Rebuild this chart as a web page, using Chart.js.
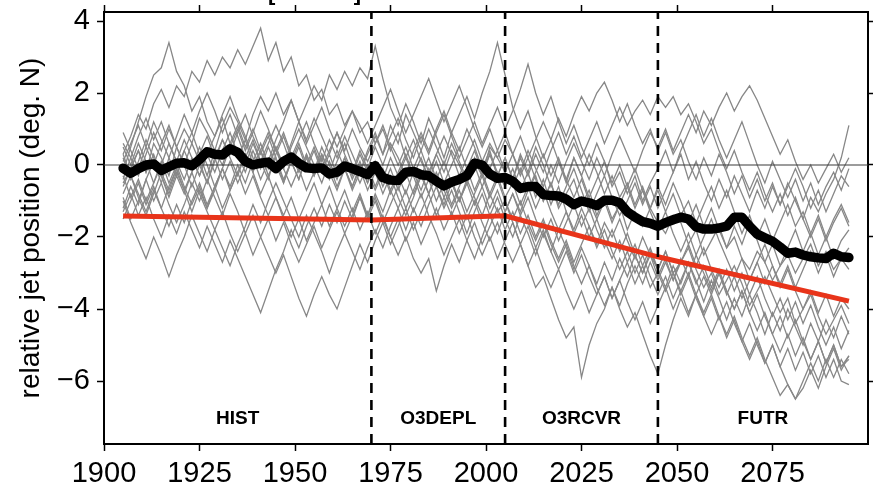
<!DOCTYPE html>
<html>
<head>
<meta charset="utf-8">
<script src="https://cdn.jsdelivr.net/npm/chart.js@4.4.1/dist/chart.umd.min.js"></script>
<style>
  body { margin: 0; background: #fff; }
  canvas { display: block; }
</style>
</head>
<body>
<canvas id="jetChart" width="873" height="489"></canvas>
<script>
/* ensemble of jet position anomalies, one value every 2 years (1905..2095) */
const years = [];
for (let y = 1905; y <= 2095; y += 2) years.push(y);

const xTicks = [1900, 1925, 1950, 1975, 2000, 2025, 2050, 2075];
const yTicks = [4, 2, 0, -2, -4, -6];

// period boundaries and names
const periodEdges = [1970, 2005, 2045];
const periodNames = ['HIST', 'O3DEPL', 'O3RCVR', 'FUTR'];
const periodMid = [1935, 1987.5, 2025, 2072.5];

// linear trend per period (red)
const trendYears = [1905, 1970, 2005, 2045, 2095];
const trendValues = [-1.42, -1.53, -1.41, -2.55, -3.78];

// ensemble mean (black)
const meanValues = [
  -0.09, -0.23, -0.1, 0.0, 0.03, -0.15, -0.05, 0.05, 0.06, -0.02, 0.15, 0.37, 0.3, 0.28, 0.45, 0.35, 0.1, 0.0, 0.05, 0.08, -0.1, 0.1, 0.22, 0.05, -0.08, -0.1, -0.08, -0.25, -0.2, -0.03, -0.1, -0.18, -0.27,
  -0.02, -0.35, -0.42, -0.43, -0.2, -0.18, -0.27, -0.3, -0.45, -0.58, -0.47, -0.4, -0.3, 0.05, 0.0, -0.25, -0.37, -0.35,
  -0.45, -0.65, -0.6, -0.6, -0.82, -0.85, -0.86, -0.95, -1.1, -1.0, -1.05, -1.13, -0.98, -0.98, -1.05, -1.3, -1.45, -1.57, -1.62, -1.7,
  -1.6, -1.52, -1.45, -1.5, -1.72, -1.78, -1.78, -1.75, -1.7, -1.45, -1.45, -1.7, -1.92, -2.02, -2.12, -2.28, -2.45, -2.42, -2.5, -2.55, -2.58, -2.6, -2.45, -2.55, -2.57
];

// individual members (grey)
const m01 = [
  0.3, 0.8, 1.4, 1.0, 1.7, 2.1, 1.6, 2.2, 1.9, 2.6, 2.3, 2.9, 2.5, 3.0, 2.7, 3.2, 2.8, 3.3, 3.8, 2.9, 3.4, 2.6, 3.0, 2.2, 2.5, 1.8, 2.1, 1.4, 1.7, 1.1, 1.5, 0.9, 1.2,
  0.6, 1.0, 0.4, 0.9, 0.2, 0.7, 0.1, -0.3, 0.3, -0.2, 0.4, 0.0, -0.5, 0.1, -0.3, 0.5, 0.2, -0.2,
  -0.6, -0.1, -0.7, -0.3, -1.0, -0.5, -1.2, -0.8, -0.4, -1.1, -0.7, -1.4, -0.9, -1.5, -1.1, -1.8, -1.3, -1.7, -1.2, -1.6,
  -1.9, -1.4, -1.6, -2.2, -1.8, -2.5, -2.1, -1.7, -2.3, -2.0, -2.6, -2.9, -2.4, -2.7, -3.2, -2.8, -2.5, -3.0, -2.6, -2.2, -2.8, -2.4, -2.9, -2.6, -2.3
];
const m02 = [
  -0.2, 0.5, 1.2, 1.9, 2.5, 2.7, 3.4, 2.6, 2.2, 1.5, 1.9, 1.2, 0.8, 1.3, 0.6, 0.2, 0.7, 0.0, 0.4, -0.3, 0.2, -0.5, 0.1, -0.4, 0.3, -0.2, 0.5, 0.0, -0.6, -0.1, -0.7, -0.2, 0.3,
  0.8, 0.3, 1.1, 0.6, 1.4, 0.9, 0.4, 1.0, 0.5, 0.0, 0.6, 0.1, -0.4, 0.2, -0.3, 0.3, -0.2, -0.6,
  -0.1, -0.7, -0.2, -0.9, -0.4, -1.1, -0.6, -1.3, -1.8, -1.2, -1.7, -2.2, -1.6, -2.0, -1.5, -2.1, -2.6, -2.0, -2.5, -2.9,
  -2.4, -3.0, -2.7, -2.3, -2.9, -3.4, -3.0, -3.6, -3.2, -2.8, -3.3, -3.9, -3.5, -3.1, -3.6, -4.1, -3.7, -4.4, -4.0, -3.6, -4.2, -4.7, -4.3, -3.9, -4.4
];
const m03 = [
  -0.5, -0.1, 0.4, -0.2, 0.6, 0.2, -0.3, 0.5, 1.0, 0.6, 1.3, 0.9, 0.4, 1.1, 1.6, 1.2, 0.7, 1.4, 1.9, 1.5, 2.0, 1.4, 1.8, 1.2, 1.7, 2.2, 1.8, 2.5, 2.1, 2.6, 2.2, 2.7, 2.4,
  3.3, 2.4, 1.6, 1.1, 1.7, 1.2, 0.6, 1.3, 0.8, 0.2, 0.9, 0.4, 1.0, 0.5, -0.1, 0.4, -0.3, 0.2,
  -0.4, 0.3, -0.2, 0.5, 0.0, -0.6, 0.1, -0.5, 0.2, -0.3, -0.9, -0.4, 0.1, -0.6, -0.2, -0.8, -0.3, -1.0, -0.5, -0.1,
  0.4, -0.2, 0.3, -0.4, 0.1, -0.5, -1.0, -0.4, -0.9, -0.3, -0.8, -1.3, -0.7, -1.2, -0.6, -1.1, -0.5, -1.0, -1.5, -0.9, -1.3, -0.8, -0.4, 0.2, 1.1
];
const m04 = [
  0.6, 0.2, -0.3, 0.3, 0.9, 0.4, 1.0, 0.5, 0.0, 0.6, 0.1, -0.5, 0.2, 0.7, 0.3, 0.9, 1.4, 0.8, 0.3, 0.8, 0.2, -0.4, 0.1, 0.6, 0.0, 0.5, -0.1, 0.4, 0.9, 0.3, -0.2, 0.4, -0.1,
  0.5, 0.0, 0.6, 0.2, -0.3, 0.4, 0.9, 0.4, 1.0, 1.5, 0.9, 1.4, 1.9, 1.3, 2.0, 2.6, 3.4, 2.5,
  1.6, 1.0, 1.5, 0.8, 0.2, 0.7, 0.1, -0.4, 0.2, -0.3, 0.3, -0.2, -0.8, -0.3, -0.9, -0.5, -1.1, -0.6, -1.2, -0.7,
  -1.3, -0.8, -1.4, -1.0, -1.6, -1.1, -0.6, -1.2, -0.7, -1.3, -1.9, -1.4, -2.0, -1.5, -2.1, -1.6, -1.1, -1.7, -1.3, -1.9, -1.4, -2.0, -1.5, -1.1, -1.6
];
const m05 = [
  -1.2, -0.6, -1.1, -0.4, 0.1, -0.5, 0.2, -0.3, 0.4, 0.9, 0.3, 0.8, 0.2, -0.4, 0.1, -0.5, 0.0, 0.6, 0.1, -0.4, 0.3, 0.8, 0.2, 0.7, 1.2, 0.6, 0.1, 0.7, 0.2, 0.8, 0.3, -0.2, 0.4,
  0.9, 0.3, 0.8, 1.3, 0.7, 0.2, 0.8, 0.3, 0.9, 1.4, 0.8, 0.2, 0.7, 1.2, 0.6, 1.1, 1.6, 1.0,
  1.5, 2.1, 2.8, 2.0, 1.4, 1.9, 1.2, 0.6, 1.1, 0.5, 0.0, 0.6, 0.1, -0.5, 0.0, -0.6, -0.1, -0.7, -1.2, -0.6,
  -1.1, -0.5, -1.0, -1.6, -1.1, -1.7, -1.2, -1.8, -2.3, -1.7, -2.2, -1.6, -2.1, -2.7, -2.2, -2.8, -2.3, -1.8, -2.4, -1.9, -2.5, -2.0, -2.6, -2.1, -1.8
];
const m06 = [
  0.2, -0.4, 0.1, 0.7, 0.2, -0.3, -0.9, -0.3, -0.8, -0.2, 0.3, -0.3, 0.4, 0.0, 0.6, 1.1, 0.5, 1.0, 0.4, -0.1, 0.5, 0.0, 0.6, 1.2, 0.7, 1.3, 0.8, 0.3, 0.9, 0.4, 1.0, 0.5, 0.1,
  0.6, 1.1, 0.5, 0.0, 0.5, -0.1, 0.4, -0.2, 0.3, 0.8, 0.3, -0.3, 0.2, 0.7, 0.1, 0.6, 0.2, 0.7,
  0.3, 0.8, 0.2, 0.7, 1.2, 0.7, 1.3, 0.8, 1.4, 1.9, 1.5, 2.0, 2.3, 1.8, 1.2, 1.7, 1.1, 0.6, 1.0, 0.4,
  0.9, 0.3, 0.7, 0.1, -0.4, 0.2, -0.3, 0.3, -0.2, -0.8, -0.3, -0.9, -0.4, -1.0, -0.5, -1.1, -0.6, -0.1, -0.6, -1.2, -0.7, -1.3, -0.8, -0.3, -0.6
];
const m07 = [
  -0.8, -0.3, -0.9, -1.4, -0.8, -0.2, -0.7, -0.1, 0.4, -0.1, 0.5, 0.0, -0.6, -0.1, 0.5, 1.0, 0.4, 0.9, 1.5, 1.0, 0.4, 0.9, 0.3, -0.2, 0.3, -0.3, 0.2, -0.4, 0.1, 0.6, 0.0, -0.5, 0.0,
  -0.6, -0.1, -0.7, -0.2, 0.3, -0.3, 0.2, -0.4, 0.1, -0.5, 0.0, 0.5, -0.1, 0.4, -0.2, 0.3, -0.3, 0.2,
  -0.4, 0.2, -0.3, 0.3, -0.2, 0.4, 0.9, 0.3, 0.8, 0.2, 0.7, 1.2, 0.6, 1.1, 1.6, 1.1, 1.5, 1.8, 1.4, 1.9,
  1.6, 1.9, 1.4, 1.7, 1.2, 0.6, 1.0, 0.4, -0.1, 0.4, -0.2, -0.7, -0.2, -0.8, -1.3, -0.8, -1.4, -0.9, -1.5, -2.0, -1.5, -2.1, -1.6, -1.2, -1.7
];
const m08 = [
  0.1, 0.6, 1.1, 0.5, 1.2, 0.7, 0.2, 0.8, 1.4, 0.9, 1.5, 2.0, 1.5, 0.9, 1.4, 0.8, 0.2, 0.7, 0.1, 0.6, 1.1, 0.6, 0.0, 0.5, -0.1, 0.4, -0.2, 0.3, -0.3, 0.2, -0.4, 0.1, -0.5,
  0.0, -0.6, -0.1, -0.7, -0.2, -0.8, -0.3, 0.2, -0.4, 0.1, -0.5, -1.0, -0.5, 0.0, -0.6, -0.1, 0.4, -0.2,
  0.3, -0.2, 0.4, -0.1, -0.6, 0.0, -0.5, 0.1, 0.6, 0.1, -0.4, 0.2, -0.3, 0.3, 0.8, 0.3, -0.2, 0.4, 0.9, 0.5,
  1.0, 0.4, 0.9, 1.4, 0.9, 1.5, 1.1, 1.6, 2.0, 1.5, 1.9, 2.2, 1.8, 1.3, 0.8, 0.3, 0.7, 0.1, -0.4, 0.0, -0.5, -0.1, 0.3, -0.2, 0.2
];
const m09 = [
  -1.3, -0.8, -1.4, -0.9, -1.5, -2.0, -1.4, -1.9, -1.3, -1.8, -2.3, -1.7, -2.2, -2.7, -2.1, -2.6, -3.1, -3.6, -4.1, -3.5, -2.9, -2.4, -1.8, -2.3, -1.7, -1.2, -1.7, -1.1, -1.6, -1.0, -1.5, -0.9, -1.4,
  -0.8, -1.3, -0.7, -1.2, -1.8, -1.2, -1.7, -1.1, -0.6, -1.2, -0.7, -1.3, -1.9, -1.3, -0.8, -1.4, -0.9, -1.5,
  -2.0, -1.4, -1.9, -2.5, -1.9, -2.4, -1.8, -2.3, -2.9, -2.3, -2.8, -3.3, -2.7, -3.2, -2.6, -3.1, -2.5, -3.0, -2.4, -2.9,
  -3.4, -2.8, -3.3, -2.7, -3.2, -3.8, -3.2, -3.7, -4.3, -3.7, -4.2, -3.6, -4.1, -4.7, -4.1, -4.6, -4.0, -4.5, -5.0, -4.4, -4.9, -4.3, -4.8, -4.2, -4.7
];
const m10 = [
  -0.9, -1.5, -1.0, -0.4, -1.0, -0.5, -1.1, -1.6, -1.1, -0.5, -1.0, -0.4, -0.9, -1.4, -0.8, -1.3, -1.9, -1.4, -2.0, -2.5, -3.0, -2.5, -3.1, -3.7, -4.2, -3.6, -3.1, -3.6, -4.0, -3.4, -2.8, -2.2, -2.7,
  -2.1, -1.6, -2.2, -1.7, -1.2, -1.8, -1.3, -0.8, -1.4, -0.9, -0.4, -1.0, -0.5, -1.1, -0.6, -1.2, -0.7, -1.3,
  -0.8, -1.4, -0.9, -1.5, -2.0, -1.5, -2.1, -1.6, -1.1, -1.7, -1.2, -1.8, -2.3, -1.8, -2.4, -1.9, -2.5, -3.0, -2.5, -3.1,
  -2.6, -3.2, -2.7, -2.2, -2.8, -2.3, -2.9, -3.4, -2.9, -3.5, -3.0, -3.6, -3.1, -3.7, -4.2, -3.7, -4.3, -3.8, -4.4, -3.9, -4.5, -5.0, -4.5, -5.1, -4.6
];
const m11 = [
  -0.3, -0.9, -0.4, -1.0, -0.5, 0.1, -0.5, 0.0, -0.6, -1.1, -0.6, -1.2, -0.7, -0.1, -0.7, -0.2, 0.3, -0.2, -0.8, -0.3, -0.9, -1.4, -0.9, -1.5, -1.0, -0.5, -1.1, -0.6, -1.2, -1.7, -1.2, -1.8, -1.3,
  -1.9, -1.4, -2.0, -2.5, -2.0, -2.6, -3.0, -2.6, -3.5, -2.8, -2.2, -2.7, -2.1, -1.6, -2.2, -1.7, -1.2, -1.8,
  -1.3, -1.9, -1.4, -2.0, -1.5, -2.1, -2.6, -2.1, -2.7, -2.2, -1.7, -2.3, -1.8, -2.4, -2.9, -2.4, -3.0, -2.5, -3.1, -3.6,
  -3.1, -3.7, -3.2, -2.7, -3.3, -2.8, -3.4, -2.9, -3.5, -4.0, -3.5, -4.1, -3.6, -4.2, -4.7, -4.2, -4.8, -4.3, -4.9, -5.4, -4.9, -5.5, -5.0, -5.6, -5.4
];
const m12 = [
  0.5, 0.0, 0.6, 0.1, -0.5, 0.0, 0.6, 0.1, 0.7, 0.2, -0.3, 0.3, -0.2, 0.4, 0.9, 0.3, -0.2, 0.4, -0.1, 0.5, 0.0, -0.5, 0.1, -0.4, 0.2, -0.3, 0.3, -0.2, -0.7, -0.1, -0.6, 0.0, -0.5,
  0.1, -0.4, 0.2, -0.3, -0.8, -0.2, -0.7, -0.1, -0.6, -1.1, -0.5, -1.0, -0.4, -0.9, -1.4, -0.8, -1.3, -1.0,
  -1.6, -2.2, -2.8, -3.4, -3.1, -3.7, -4.3, -4.8, -4.5, -5.9, -5.0, -4.4, -4.0, -3.4, -3.9, -3.3, -2.8, -3.3, -2.7, -3.2,
  -2.7, -3.2, -2.6, -3.1, -2.5, -3.0, -3.5, -3.0, -3.6, -3.1, -3.7, -3.2, -2.7, -3.3, -2.8, -3.4, -2.9, -3.5, -4.0, -3.5, -4.1, -3.6, -4.2, -3.7, -4.0
];
const m13 = [
  -0.6, -0.1, 0.4, -0.2, 0.3, -0.3, -0.8, -0.2, -0.7, -1.3, -0.7, -1.2, -0.6, -0.1, -0.6, 0.0, -0.5, 0.1, 0.6, 0.0, 0.5, -0.1, -0.6, -0.1, -0.7, -0.2, 0.3, -0.2, 0.4, -0.1, -0.6, -0.1, -0.7,
  -0.2, -0.8, -0.3, -0.9, -1.4, -0.9, -0.3, -0.8, -0.2, -0.7, -1.2, -0.7, -1.3, -0.8, -0.3, -0.9, -0.4, -1.0,
  -1.5, -1.0, -1.6, -2.1, -1.6, -2.2, -2.7, -2.2, -2.8, -3.3, -2.8, -3.4, -3.9, -3.4, -4.0, -4.5, -4.1, -4.7, -5.3, -5.8,
  -5.0, -4.3, -3.7, -4.2, -3.6, -3.1, -3.6, -3.0, -3.5, -4.0, -3.5, -4.1, -4.6, -4.1, -4.7, -5.2, -4.7, -5.3, -4.8, -5.4, -4.9, -5.5, -5.0, -5.6, -5.3
];
const m14 = [
  0.9, 0.4, -0.1, 0.5, 0.0, 0.6, 1.1, 0.5, 0.0, -0.6, 0.0, -0.5, 0.1, 0.7, 0.2, -0.3, 0.3, -0.2, 0.4, 0.9, 0.4, -0.1, 0.5, 1.0, 0.5, 0.0, -0.5, 0.1, -0.4, 0.2, -0.3, 0.3, -0.2,
  -0.7, -0.2, -0.8, -0.3, 0.2, -0.3, -0.9, -0.4, -1.0, -0.5, -1.1, -0.6, -0.1, -0.7, -0.2, -0.8, -0.3, -0.9,
  -0.5, -1.1, -0.6, -1.2, -0.7, -1.3, -1.8, -1.3, -1.9, -1.4, -2.0, -1.5, -2.1, -2.6, -2.1, -2.7, -2.2, -2.8, -2.3, -2.9,
  -2.4, -3.0, -3.5, -3.0, -3.6, -4.1, -3.6, -4.2, -4.7, -4.2, -4.8, -5.3, -4.8, -5.4, -5.9, -6.4, -6.1, -6.5, -6.2, -5.7, -6.2, -5.6, -5.1, -5.7, -5.3
];
const m15 = [
  -1.5, -1.0, -0.5, -1.1, -0.6, -1.2, -1.7, -1.1, -1.6, -1.0, -0.5, -1.1, -0.6, -1.2, -0.7, -0.2, -0.8, -0.3, -0.9, -1.4, -0.9, -1.5, -2.0, -1.5, -2.1, -1.6, -1.1, -1.7, -1.2, -0.7, -1.3, -0.8, -1.4,
  -0.9, -1.5, -2.0, -1.5, -2.1, -1.6, -2.2, -1.7, -1.2, -1.8, -1.3, -1.9, -1.4, -2.0, -2.5, -2.0, -2.6, -2.1,
  -1.6, -2.2, -1.7, -2.3, -1.8, -2.4, -2.9, -2.4, -3.0, -2.5, -3.1, -3.6, -3.1, -3.7, -3.2, -2.7, -3.3, -2.8, -3.4, -3.0,
  -3.5, -3.0, -3.6, -3.1, -3.7, -4.2, -3.7, -4.3, -3.8, -4.4, -4.9, -4.4, -5.0, -5.5, -5.0, -5.6, -6.1, -6.5, -6.0, -5.5, -6.0, -5.4, -5.9, -5.4, -5.8
];
const m16 = [
  0.3, -0.3, -0.8, -1.3, -0.7, -1.2, -0.6, -0.1, -0.7, -0.2, -0.8, -1.3, -1.8, -1.3, -1.9, -2.4, -1.9, -2.5, -2.0, -1.5, -2.1, -1.6, -2.2, -2.7, -2.2, -1.7, -2.3, -1.8, -1.3, -1.9, -1.4, -0.9, -1.5,
  -1.0, -1.6, -1.1, -0.6, -1.2, -0.7, -0.2, -0.8, -0.3, -0.9, -1.4, -0.9, -1.5, -1.0, -1.6, -2.1, -1.6, -2.2,
  -2.7, -2.2, -2.8, -2.3, -2.9, -3.4, -2.9, -3.5, -4.0, -3.5, -4.1, -3.6, -3.1, -3.7, -3.2, -3.8, -4.3, -3.8, -4.4, -3.9,
  -3.4, -4.0, -3.5, -4.1, -3.6, -4.2, -4.7, -4.2, -4.8, -4.3, -4.9, -5.4, -4.9, -5.5, -5.0, -5.6, -5.1, -5.7, -5.2, -5.8, -5.3, -5.9, -5.4, -6.0, -6.1
];
const m17 = [
  -0.4, 0.2, 0.8, 1.3, 0.7, 1.2, 0.6, 0.1, -0.4, 0.2, -0.3, 0.3, 0.8, 1.4, 1.9, 1.3, 0.8, 0.2, -0.4, 0.1, 0.7, 1.2, 1.8, 1.2, 0.6, 1.1, 1.6, 1.0, 0.5, 1.0, 1.5, 1.1, 0.6,
  1.1, 1.6, 2.1, 1.5, 0.9, 1.4, 1.9, 2.4, 1.8, 1.2, 1.7, 2.2, 1.6, 1.0, 0.5, 1.0, 0.4, 0.9,
  0.3, -0.3, 0.2, -0.4, -1.0, -0.5, -1.1, -0.6, -0.1, -0.7, -1.3, -0.8, -0.3, -0.9, -1.4, -1.0, -0.5, -1.1, -0.6, -1.2,
  -0.7, -0.2, 0.4, 0.9, 1.4, 0.8, 1.3, 0.7, 0.2, 0.7, 1.2, 0.6, 0.0, -0.5, 0.1, -0.4, -0.9, -0.4, -1.0, -0.5, -1.1, -0.6, -0.2, -0.7, -0.1
];
const m18 = [
  -1.0, -1.6, -2.1, -2.6, -2.0, -2.5, -3.1, -2.5, -2.0, -1.4, -1.9, -2.4, -1.8, -2.3, -2.8, -2.2, -1.7, -1.1, -1.6, -1.0, -0.5, -1.0, -1.5, -2.0, -1.4, -1.9, -2.4, -3.0, -2.4, -1.9, -2.4, -2.9, -2.3,
  -1.8, -2.3, -1.7, -1.2, -0.7, -1.3, -0.8, -1.4, -1.9, -2.5, -2.0, -1.5, -2.1, -2.6, -2.0, -1.4, -1.9, -1.3,
  -0.8, -1.3, -0.7, -0.2, 0.3, -0.3, 0.2, -0.4, -0.9, -0.4, -1.0, -1.5, -1.0, -1.6, -1.1, -0.6, -1.2, -0.7, -1.3, -1.8,
  -1.3, -1.9, -2.4, -1.9, -2.5, -2.0, -1.5, -2.1, -2.6, -3.1, -2.6, -3.2, -2.7, -2.2, -2.8, -3.3, -2.8, -3.4, -2.9, -2.4, -3.0, -2.5, -3.1, -2.6, -2.9
];
const members = [m01, m02, m03, m04, m05, m06, m07, m08, m09, m10, m11, m12, m13, m14, m15, m16, m17, m18];

const FONT = "'Liberation Sans', Arial, Helvetica, sans-serif";
const Y_MIN = -7.75, Y_MAX = 4.25;

function pontos(xs, ys) {
    return xs.map((x, i) => ({ x: x, y: ys[i] }));
}

// datasets: lower order is drawn on top
let datasets = [];

members.forEach(function (m) {
    datasets.push({
        data: pontos(years, m),
        borderColor: '#878787',
        borderWidth: 1.3,
        order: 10
    });
});

datasets.push({
    data: [{ x: 1900, y: 0 }, { x: 2100, y: 0 }],
    borderColor: '#3a3a3a',
    borderWidth: 1.2,
    order: 5
});

datasets.push({
    data: pontos(years, meanValues),
    borderColor: '#000000',
    borderWidth: 9.5,
    borderJoinStyle: 'round',
    borderCapStyle: 'round',
    order: 3
});

datasets.push({
    data: pontos(trendYears, trendValues),
    borderColor: '#e8341a',
    borderWidth: 5,
    order: 2
});

periodEdges.forEach(function (ano) {
    datasets.push({
        data: [{ x: ano, y: Y_MIN }, { x: ano, y: Y_MAX }],
        borderColor: '#000000',
        borderWidth: 2.6,
        borderDash: [10, 7],
        order: 1
    });
});

// period names at the bottom and the cut brackets at the top edge
const rotulos = {
    id: 'rotulos',
    afterDatasetsDraw(chart) {
        const ctx = chart.ctx;
        const sx = chart.scales.x;
        const sy = chart.scales.y;
        ctx.save();
        ctx.fillStyle = '#000';
        ctx.font = 'bold 19px ' + FONT;
        ctx.textAlign = 'center';
        ctx.textBaseline = 'middle';
        periodNames.forEach(function (nome, i) {
            ctx.fillText(nome, sx.getPixelForValue(periodMid[i]), sy.getPixelForValue(-7.05));
        });
        ctx.restore();
    },
    afterDraw(chart) {
        const ctx = chart.ctx;
        ctx.save();
        ctx.fillStyle = '#000';
        ctx.font = 'bold 22px ' + FONT;
        ctx.textAlign = 'left';
        ctx.textBaseline = 'bottom';
        ctx.fillText('[', 268, 5);
        ctx.textAlign = 'right';
        ctx.fillText(']', 361, 5);
        ctx.restore();
    }
};

const tickFont = { family: FONT, size: 29 };
const menos = v => (v < 0 ? '\u2212' + Math.abs(v) : String(v));

// fixed box sizes so the plot area sits at 104..868 x 12..444
function caixa(w, h) {
    return function (s) {
        if (w !== null) s.width = w;
        if (h !== null) s.height = h;
        s.paddingTop = 0;
        s.paddingBottom = 0;
        s.paddingLeft = 0;
        s.paddingRight = 0;
    };
}

const gradeEixo = { drawOnChartArea: false, tickLength: 7, tickWidth: 1.5, tickColor: '#000' };
const bordaEixo = { color: '#000', width: 2 };

const config = {
    type: 'line',
    data: { datasets: datasets },
    options: {
        responsive: false,
        animation: false,
        layout: { padding: 0 },
        elements: { point: { radius: 0 }, line: { tension: 0 } },
        plugins: {
            legend: { display: false },
            tooltip: { enabled: false },
            title: { display: false }
        },
        scales: {
            x: {
                type: 'linear',
                position: 'bottom',
                min: 1900,
                max: 2100,
                afterBuildTicks: s => { s.ticks = xTicks.map(v => ({ value: v })); },
                afterFit: caixa(null, 45),
                ticks: { font: tickFont, color: '#000', padding: 6, maxRotation: 0, autoSkip: false, callback: v => String(v) },
                grid: gradeEixo,
                border: bordaEixo
            },
            xTop: {
                type: 'linear',
                position: 'top',
                min: 1900,
                max: 2100,
                afterBuildTicks: s => { s.ticks = xTicks.map(v => ({ value: v })); },
                afterFit: caixa(null, 12),
                ticks: { display: false },
                grid: gradeEixo,
                border: bordaEixo
            },
            y: {
                type: 'linear',
                position: 'left',
                min: Y_MIN,
                max: Y_MAX,
                afterBuildTicks: s => { s.ticks = yTicks.map(v => ({ value: v })); },
                afterFit: caixa(104, null),
                ticks: { font: tickFont, color: '#000', padding: 7, callback: menos },
                grid: gradeEixo,
                border: bordaEixo,
                title: {
                    display: true,
                    text: 'relative jet position (deg. N)',
                    font: { family: FONT, size: 28 },
                    color: '#000',
                    padding: { top: 14, bottom: 0 }
                }
            },
            yRight: {
                type: 'linear',
                position: 'right',
                min: Y_MIN,
                max: Y_MAX,
                afterBuildTicks: s => { s.ticks = yTicks.map(v => ({ value: v })); },
                afterFit: caixa(5, null),
                ticks: { display: false },
                grid: gradeEixo,
                border: bordaEixo
            }
        }
    },
    plugins: [rotulos]
};

new Chart(document.getElementById('jetChart').getContext('2d'), config);
</script>
</body>
</html>
